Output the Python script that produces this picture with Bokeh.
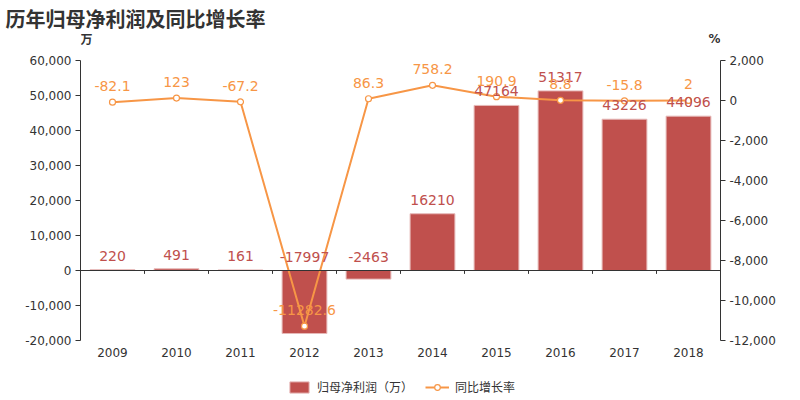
from bokeh.plotting import figure
from bokeh.layouts import column
from bokeh.models import (ColumnDataSource, FactorRange, Range1d, LinearAxis, CategoricalAxis,
                          SingleIntervalTicker, NumeralTickFormatter, Span, Label, Legend, LegendItem)
from bokeh.transform import dodge
from bokeh.core.properties import value
from bokeh.embed import file_html
from bokeh.resources import INLINE

years = ["2009", "2010", "2011", "2012", "2013", "2014", "2015", "2016", "2017", "2018"]
profit = [220, 491, 161, -17997, -2463, 16210, 47164, 51317, 43226, 44096]
growth = [-82.1, 123, -67.2, -11282.6, 86.3, 758.2, 190.9, 8.8, -15.8, 2]
profit_labels = ["220", "491", "161", "-17997", "-2463", "16210", "47164", "51317", "43226", "44096"]
growth_labels = ["-82.1", "123", "-67.2", "-11282.6", "86.3", "758.2", "190.9", "8.8", "-15.8", "2"]
title_text = "历年归母净利润及同比增长率"
left_unit = "万"
right_unit = "%"
bar_name = "归母净利润（万）"
line_name = "同比增长率"

BAR = "#c0504d"
LINE = "#f79646"
TXT = "#333333"
NUM_FONT = "DejaVu Sans"
CJK_FONT = "Noto Sans CJK SC"

src = ColumnDataSource(dict(
    year=years, profit=profit, growth=growth,
    plab=profit_labels, glab=growth_labels,
    ptop=[max(v, 0) for v in profit],
))

def bare(fig):
    fig.outline_line_color = None
    fig.xgrid.visible = False
    fig.ygrid.visible = False
    return fig

# ---------- header: title and axis units ----------
header = bare(figure(width=800, height=50, x_range=Range1d(0, 1), y_range=Range1d(0, 1),
                     output_backend="svg", toolbar_location=None,
                     x_axis_location=None, y_axis_location=None, min_border=0))
header.title.text = title_text
header.title.align = "left"
header.title.offset = -75
header.title.standoff = 2
header.title.text_font = CJK_FONT
header.title.text_font_size = "20px"
header.title.text_font_style = "bold"
header.title.text_color = TXT
header.add_layout(Label(x=0, y=12, x_units="screen", y_units="screen", text=left_unit,
                        text_font=CJK_FONT, text_font_size="12px", text_font_style="bold",
                        text_color=TXT, text_baseline="middle", text_align="left"))
header.add_layout(Label(x=640, y=12, x_units="screen", y_units="screen", text=right_unit,
                        text_font=NUM_FONT, text_font_size="12px", text_font_style="bold",
                        text_color=TXT, text_baseline="middle", text_align="right"))

# ---------- main chart ----------
p = bare(figure(width=800, height=312, x_range=FactorRange(factors=years),
                y_range=Range1d(-20000, 60000), output_backend="svg", toolbar_location=None,
                x_axis_location=None, y_axis_location=None,
                min_border_left=80, min_border_right=80, min_border_top=10, min_border_bottom=22))
p.extra_y_ranges = {"pct": Range1d(-12000, 2000)}

def style_axis(ax):
    ax.axis_line_color = TXT
    ax.major_tick_line_color = TXT
    ax.minor_tick_line_color = None
    ax.major_tick_out = 5
    ax.major_tick_in = 0
    ax.major_label_text_color = TXT
    ax.major_label_text_font = NUM_FONT
    ax.major_label_text_font_size = "12px"
    ax.major_label_standoff = 4

yl = LinearAxis(ticker=SingleIntervalTicker(interval=10000),
                formatter=NumeralTickFormatter(format="0,0"))
style_axis(yl)
p.add_layout(yl, "left")

yr = LinearAxis(y_range_name="pct", ticker=SingleIntervalTicker(interval=2000),
                formatter=NumeralTickFormatter(format="0,0"))
style_axis(yr)
p.add_layout(yr, "right")

xa = CategoricalAxis()
xa.axis_line_color = None
xa.major_tick_line_color = None
xa.major_tick_out = 0
xa.major_tick_in = 0
xa.major_label_text_color = TXT
xa.major_label_text_font = NUM_FONT
xa.major_label_text_font_size = "12px"
xa.major_label_standoff = 7
p.add_layout(xa, "below")

bar_style = dict(fill_color=BAR, line_color="#e6b9b8", line_width=1)
bars = p.vbar(x="year", top="profit", bottom=0, width=0.7, source=src, **bar_style)

# zero axis line and category boundary ticks
p.add_layout(Span(location=0, dimension="width", line_color=TXT, line_width=1))
for off in (-0.5, 0.5):
    p.segment(x0=dodge("year", off, range=p.x_range), x1=dodge("year", off, range=p.x_range),
              y0=0, y1=-900, source=src, line_color=TXT, line_width=1)

line_style = dict(line_color=LINE, line_width=2)
marker_style = dict(fill_color="white", line_color=LINE, line_width=1.2)
ln = p.line(x="year", y="growth", source=src, y_range_name="pct", **line_style)
pts = p.scatter(x="year", y="growth", source=src, y_range_name="pct", size=6, **marker_style)

p.text(x="year", y="ptop", text="plab", source=src, text_align="center", text_baseline="middle",
       y_offset=-14, text_color=BAR, text_font=value(NUM_FONT), text_font_size="14px")
p.text(x="year", y="growth", text="glab", source=src, y_range_name="pct", text_align="center",
       text_baseline="middle", y_offset=-16, text_color=LINE, text_font=value(NUM_FONT),
       text_font_size="14px")

# ---------- footer: legend ----------
# the footer's ranges lie far away from every data value, so its renderers only feed the legend
footer = bare(figure(width=800, height=38, x_range=Range1d(1e7, 1e7 + 1),
                     y_range=Range1d(1e7, 1e7 + 1),
                     output_backend="svg", toolbar_location=None,
                     x_axis_location=None, y_axis_location=None, min_border=0))
lb = footer.vbar(x="profit", top="profit", width=0.7, source=src, **bar_style)
ll = footer.line(x="profit", y="growth", source=src, **line_style)
lm = footer.scatter(x="profit", y="growth", source=src, **marker_style)
legend = Legend(items=[LegendItem(label=bar_name, renderers=[lb]),
                       LegendItem(label=line_name, renderers=[ll, lm])],
                location=(207, 5), orientation="horizontal",
                padding=0, margin=0, spacing=12, glyph_width=24, glyph_height=14,
                label_height=14, label_standoff=6,
                label_text_font=CJK_FONT, label_text_font_size="12px", label_text_color=TXT,
                border_line_color=None, background_fill_alpha=0)
footer.add_layout(legend)

layout = column(header, p, footer, spacing=0)
open("out.html", "w").write(file_html(layout, INLINE))
